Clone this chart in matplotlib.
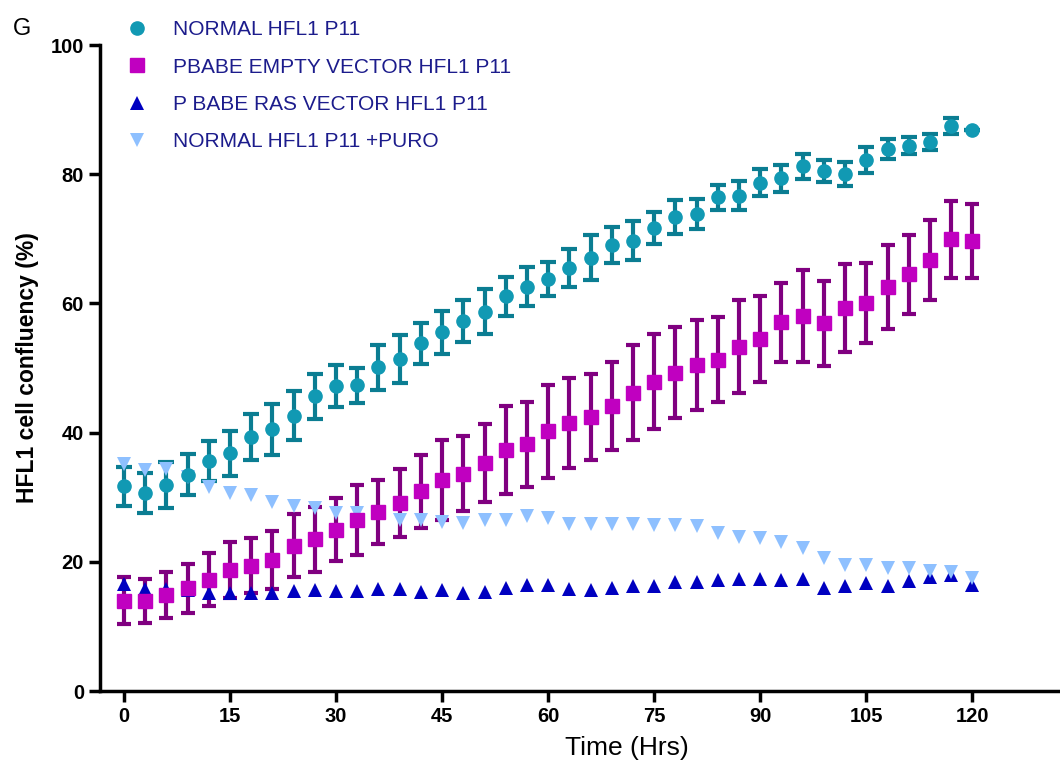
import numpy as np
import matplotlib
matplotlib.use("Agg")
import matplotlib.pyplot as plt
from matplotlib import font_manager

plt.rcParams['font.family'] = ['Liberation Sans', 'DejaVu Sans']

# time points (hrs)
hrs = list(range(0, 121, 3))

# NORMAL HFL1 P11
normal = [31.7, 30.6, 31.9, 33.5, 35.6, 36.8, 39.3, 40.5, 42.6, 45.6,
          47.2, 47.3, 50.1, 51.4, 53.8, 55.5, 57.3, 58.7, 61.1, 62.6,
          63.8, 65.5, 67.1, 69.0, 69.7, 71.7, 73.4, 73.8, 76.4, 76.7,
          78.7, 79.4, 81.2, 80.5, 80.0, 82.2, 83.9, 84.4, 85.0, 87.5, 86.8]
normal_err = [3.0, 3.1, 3.6, 3.2, 3.1, 3.5, 3.6, 3.9, 3.8, 3.5,
              3.3, 2.7, 3.5, 3.7, 3.2, 3.4, 3.2, 3.5, 3.0, 3.0,
              2.6, 2.9, 3.5, 2.8, 3.0, 2.5, 2.6, 2.3, 1.9, 2.3,
              2.1, 2.1, 2.0, 1.7, 1.9, 2.0, 1.5, 1.3, 1.2, 1.2, 0.0]

# PBABE EMPTY VECTOR HFL1 P11
empty = [14.0, 14.0, 14.9, 15.9, 17.2, 18.7, 19.4, 20.3, 22.5, 23.5,
         25.0, 26.5, 27.7, 29.1, 30.9, 32.6, 33.6, 35.3, 37.3, 38.2,
         40.2, 41.5, 42.4, 44.1, 46.2, 47.9, 49.3, 50.5, 51.3, 53.3,
         54.5, 57.1, 58.1, 56.9, 59.3, 60.1, 62.6, 64.5, 66.7, 69.9, 69.7]
empty_err = [3.6, 3.4, 3.6, 3.8, 4.1, 4.3, 4.3, 4.5, 4.9, 5.0,
             4.9, 5.4, 4.9, 5.2, 5.7, 6.2, 5.8, 6.1, 6.8, 6.6,
             7.2, 7.0, 6.6, 6.8, 7.3, 7.3, 7.0, 7.0, 6.6, 7.2,
             6.6, 6.1, 7.1, 6.6, 6.8, 6.2, 6.5, 6.1, 6.2, 5.9, 5.7]

# P BABE RAS VECTOR HFL1 P11
ras = [16.6, 15.8, 15.8, 15.7, 15.2, 15.1, 15.1, 15.1, 15.5, 15.7,
       15.5, 15.5, 15.8, 15.8, 15.4, 15.7, 15.2, 15.4, 15.9, 16.4,
       16.4, 15.8, 15.6, 15.9, 16.3, 16.3, 16.8, 16.8, 17.2, 17.4,
       17.3, 17.2, 17.4, 15.9, 16.2, 16.7, 16.2, 17.1, 17.7, 18.0, 16.4]

# NORMAL HFL1 P11 +PURO
puro = [35.2, 34.2, 34.3, 33.1, 31.6, 30.6, 30.4, 29.3, 28.7, 28.3,
        27.6, 27.6, 27.5, 26.5, 26.4, 26.2, 26.0, 26.4, 26.4, 27.1,
        26.8, 25.9, 25.9, 25.9, 25.9, 25.7, 25.7, 25.5, 24.4, 23.9,
        23.7, 23.1, 22.2, 20.6, 19.5, 19.5, 19.0, 19.0, 18.6, 18.5, 17.5]

labels = ['NORMAL HFL1 P11', 'PBABE EMPTY VECTOR HFL1 P11',
          'P BABE RAS VECTOR HFL1 P11', 'NORMAL HFL1 P11 +PURO']

# narrow font for the axis numbers if it is there
names = {f.name for f in font_manager.fontManager.ttflist}
narrow = ['Liberation Sans Narrow', 'Liberation Sans'] if 'Liberation Sans Narrow' in names else ['Liberation Sans']

fig = plt.figure(figsize=(10.6, 7.76), dpi=100)
ax = fig.add_axes([0.0943, 0.1095, 0.9057, 0.8325])

h1 = ax.errorbar(hrs, normal, yerr=normal_err, fmt='o', color='#1199b3', ecolor='#0b7d92',
                 ms=9.5, elinewidth=3, capsize=6, capthick=3, label=labels[0])
h2 = ax.errorbar(hrs, empty, yerr=empty_err, fmt='s', color='#c000c0', ecolor='#800080',
                 ms=10, elinewidth=3, capsize=5, capthick=3, label=labels[1])
h3, = ax.plot(hrs, ras, '^', color='#0000c0', ms=10, mew=0, label=labels[2])
h4, = ax.plot(hrs, puro, 'v', color='#8ec0ff', ms=10, mew=0, label=labels[3])

ax.set_xlim(-3.4, 132.4)
ax.set_ylim(0, 100)
ax.set_xticks(range(0, 121, 15))
ax.set_yticks(range(0, 101, 20))
for s in ['top', 'right']:
    ax.spines[s].set_visible(False)
for s in ['left', 'bottom']:
    ax.spines[s].set_linewidth(2.5)
ax.tick_params(axis='both', width=2.5, length=8, direction='out', labelsize=14.5)
for lab in ax.get_xticklabels() + ax.get_yticklabels():
    lab.set_fontweight('bold')
    lab.set_family(narrow)

ax.set_xlabel('Time (Hrs)', fontsize=19, family=narrow)
ax.xaxis.set_label_coords(0.549, -0.07)
ax.set_ylabel('HFL1 cell confluency (%)', fontsize=16.5, fontweight='bold', labelpad=8)

# legend shows markers only
leg = fig.legend([h1[0], h2[0], h3, h4], labels, loc='upper left', bbox_to_anchor=(0.108, 0.99),
                 frameon=False, fontsize=15, handlelength=1.0, handletextpad=1.2,
                 labelspacing=0.88, borderaxespad=0.2)
for t in leg.get_texts():
    t.set_color('#1c1c8c')

fig.text(0.012, 0.962, 'G', fontsize=17, va='center')

fig.savefig('out.png', dpi=100)
